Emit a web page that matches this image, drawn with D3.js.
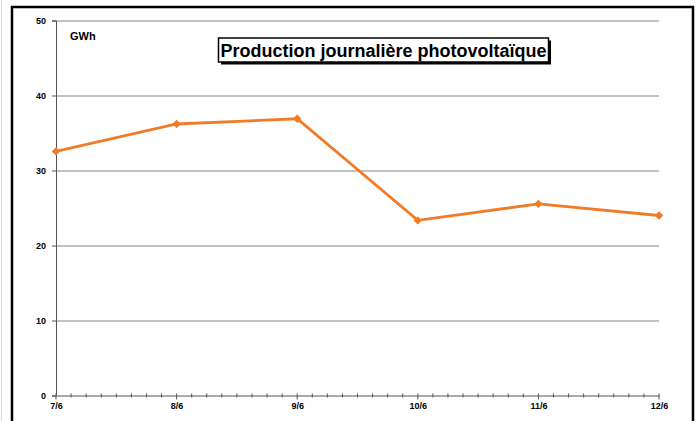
<!DOCTYPE html>
<html>
<head>
<meta charset="utf-8">
<script src="https://cdn.jsdelivr.net/npm/d3@7"></script>
<style>
  body { margin: 0; background: #fff; }
  text { font-family: 'Liberation Sans', Arial, sans-serif; }
</style>
</head>
<body>
<div id="chart"></div>
<script>
const days = ['7/6', '8/6', '9/6', '10/6', '11/6', '12/6']
const production = [32.55, 36.2, 36.9, 23.35, 25.55, 24.0]
const yTicks = [0, 10, 20, 30, 40, 50]
const title = 'Production journalière photovoltaïque'
const unit = 'GWh'

const W = 700
const H = 421
const margin = { top: 20.5, right: 41, bottom: 25.5, left: 56 }
const width = W - margin.left - margin.right
const height = H - margin.top - margin.bottom

const svg = d3.select('#chart')
  .append('svg')
  .attr('width', W)
  .attr('height', H)

// outer frames
svg.append('line')
  .attr('x1', 1.5).attr('x2', 1.5).attr('y1', 0).attr('y2', H)
  .attr('stroke', '#ddd').attr('stroke-width', 1)
svg.append('path')
  .attr('d', 'M12,' + H + 'V7H693V' + H)
  .attr('fill', 'none')
  .attr('stroke', '#000')
  .attr('stroke-width', 2.5)

const g = svg.append('g')
  .attr('transform', 'translate(' + margin.left + ',' + margin.top + ')')

const x = d3.scaleLinear()
  .domain([0, days.length - 1])
  .range([0, width])

const y = d3.scaleLinear()
  .domain([0, 50])
  .range([height, 0])

// gridlines
g.append('g')
  .selectAll('line')
  .data(yTicks.filter(d => d > 0))
  .join('line')
  .attr('x1', 0)
  .attr('x2', width)
  .attr('y1', d => Math.round(y(d)) + 0.5)
  .attr('y2', d => Math.round(y(d)) + 0.5)
  .attr('stroke', '#858585')
  .attr('stroke-width', 1)

// y axis
const yAxis = g.append('g')
  .call(d3.axisLeft(y).tickValues(yTicks).tickSize(4).tickPadding(6))
yAxis.select('.domain').attr('stroke', '#555')
yAxis.selectAll('.tick line').attr('stroke', '#555')
yAxis.selectAll('text')
  .attr('font-size', 9)
  .attr('font-weight', 'bold')
  .attr('fill', '#000')

// x axis with minor ticks every 3 hours
const minor = d3.range(0, (days.length - 1) * 8 + 1).map(i => i / 8)
const xMinor = g.append('g')
  .attr('transform', 'translate(0,' + height + ')')
xMinor.selectAll('line')
  .data(minor)
  .join('line')
  .attr('x1', d => x(d))
  .attr('x2', d => x(d))
  .attr('y1', -2)
  .attr('y2', d => Number.isInteger(d) ? 4 : 2)
  .attr('stroke', '#555')

const xAxis = g.append('g')
  .attr('transform', 'translate(0,' + height + ')')
  .call(d3.axisBottom(x).ticks(days.length).tickFormat(i => days[i]).tickSize(0).tickPadding(7.5))
xAxis.select('.domain').attr('stroke', '#555')
xAxis.selectAll('text')
  .attr('font-size', 9)
  .attr('font-weight', 'bold')
  .attr('fill', '#000')

// unit label
g.append('text')
  .attr('x', 14)
  .attr('y', 19.5)
  .attr('font-size', 11)
  .attr('font-weight', 'bold')
  .text(unit)

// title box with shadow
const tb = g.append('g').attr('transform', 'translate(' + (383.5 - margin.left) + ',' + (54 - margin.top) + ')')
const tt = tb.append('text')
  .attr('text-anchor', 'middle')
  .attr('y', 2.5)
  .attr('font-size', 18)
  .attr('font-weight', 'bold')
  .text(title)
const bb = tt.node().getBBox()
tb.insert('rect', 'text')
  .attr('x', bb.x - 2 + 2.5)
  .attr('y', -16 + 2.5)
  .attr('width', bb.width + 4)
  .attr('height', 24)
  .attr('fill', '#000')
tb.insert('rect', 'text')
  .attr('x', bb.x - 2)
  .attr('y', -16)
  .attr('width', bb.width + 4)
  .attr('height', 24)
  .attr('fill', '#fff')
  .attr('stroke', '#000')
  .attr('stroke-width', 1.5)

// data line
g.append('path')
  .datum(production)
  .attr('fill', 'none')
  .attr('stroke', '#f07c28')
  .attr('stroke-width', 2.8)
  .attr('d', d3.line()
    .x((d, i) => x(i))
    .y(d => y(d)))

// diamond markers (square turned 45deg)
g.append('g')
  .selectAll('path')
  .data(production)
  .join('path')
  .attr('transform', (d, i) => 'translate(' + x(i) + ',' + y(d) + ') rotate(45)')
  .attr('d', d3.symbol(d3.symbolSquare, 36))
  .attr('fill', '#f07c28')
</script>
</body>
</html>
